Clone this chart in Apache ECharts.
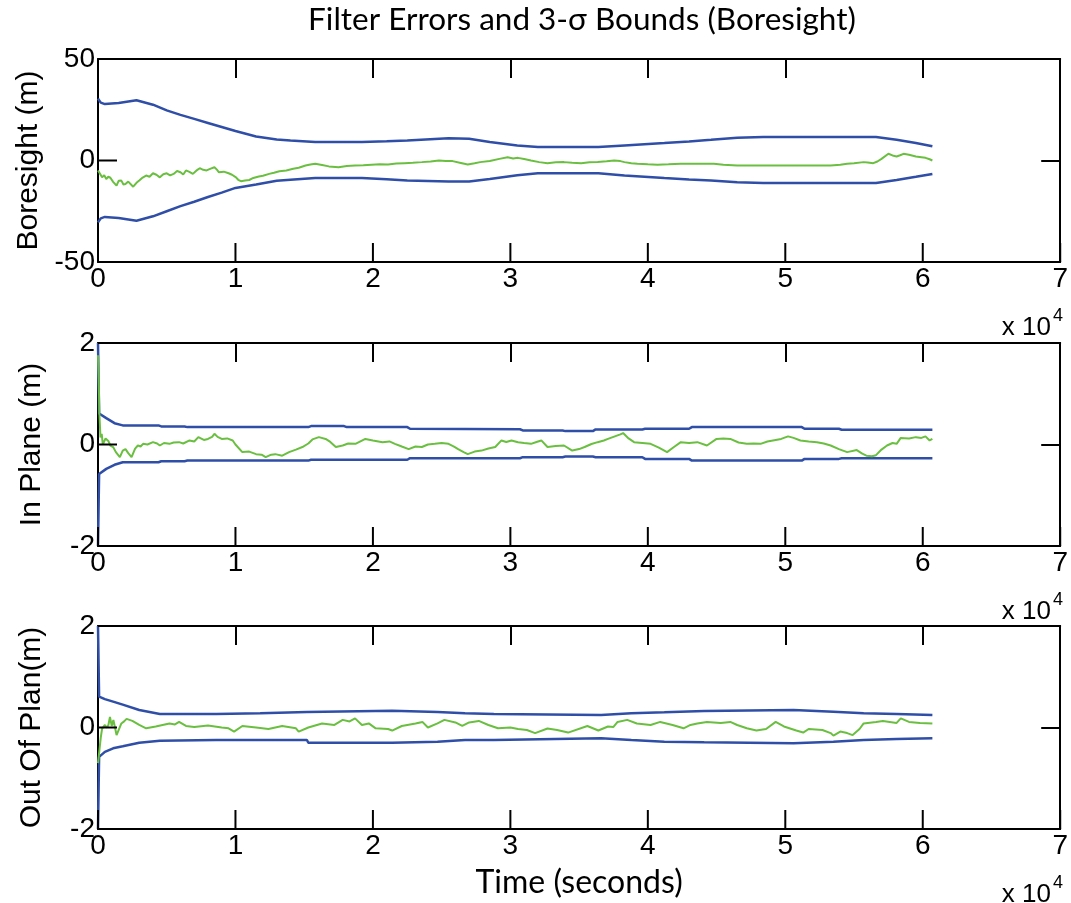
<!DOCTYPE html>
<html>
<head>
<meta charset="utf-8">
<script src="https://cdn.jsdelivr.net/npm/echarts@6/dist/echarts.min.js"></script>
<style>
  html, body { margin: 0; padding: 0; background: #fff; }
  #main { width: 1071px; height: 903px; }
</style>
</head>
<body>
<div id="main"></div>
<script>
// 时间单位: 10^4 秒
var boreBoundT = [0, 0.02, 0.05, 0.15, 0.28, 0.4, 0.5, 0.6, 0.7, 0.8, 0.9, 1.0, 1.15, 1.3, 1.4, 1.58, 1.92, 2.1, 2.25, 2.55, 2.7, 2.85, 3.05, 3.2, 3.64, 3.83, 4.12, 4.3, 4.46, 4.65, 4.84, 5.66, 5.81, 5.95, 6.07];
var boreUpper = [30.5, 28.5, 27.8, 28.3, 29.7, 27.5, 24.7, 22.5, 20.5, 18.5, 16.5, 14.5, 11.8, 10.3, 9.8, 9.1, 9.1, 9.5, 9.9, 11.0, 10.7, 9.1, 7.4, 6.6, 6.6, 7.4, 8.6, 9.4, 10.2, 11.2, 11.6, 11.6, 10.2, 8.6, 7.0];
var boreLower = [-30.5, -28.5, -27.8, -28.3, -29.7, -27.5, -25, -22.5, -20.3, -18, -15.8, -13.5, -11.8, -10, -9.5, -8.6, -8.6, -9.2, -9.9, -10.4, -10.4, -9.1, -7.3, -6.3, -6.3, -7.4, -8.6, -9.3, -9.9, -10.7, -11.1, -11.1, -9.6, -8.0, -6.6];
var boreErr = [[0,-4.9],[0.014,-5.5],[0.03,-8.3],[0.045,-7.2],[0.06,-9.1],[0.075,-8.0],[0.09,-8.5],[0.11,-10.5],[0.135,-12.4],[0.15,-10.0],[0.17,-9.9],[0.185,-11.8],[0.2,-11.6],[0.22,-10.4],[0.256,-12.9],[0.28,-11.0],[0.3,-9.9],[0.325,-8.4],[0.35,-7.4],[0.375,-8.0],[0.40,-6.3],[0.425,-7.0],[0.45,-8.3],[0.475,-6.8],[0.5,-6.3],[0.525,-7.3],[0.55,-6.6],[0.575,-5.2],[0.6,-5.8],[0.62,-6.9],[0.64,-4.9],[0.665,-5.6],[0.69,-6.6],[0.715,-5.0],[0.74,-3.8],[0.765,-4.6],[0.79,-4.9],[0.82,-4.0],[0.847,-3.3],[0.865,-4.5],[0.88,-5.8],[0.915,-5.5],[0.95,-6.3],[0.975,-7.0],[1.004,-8.3],[1.02,-9.5],[1.04,-10.2],[1.07,-9.8],[1.1,-9.6],[1.13,-8.6],[1.17,-7.9],[1.2,-7.5],[1.245,-6.6],[1.28,-6.0],[1.32,-5.3],[1.37,-4.9],[1.42,-4.1],[1.46,-3.6],[1.51,-2.5],[1.545,-2.0],[1.58,-1.6],[1.63,-2.2],[1.68,-2.9],[1.75,-3.3],[1.81,-2.7],[1.87,-2.5],[1.93,-2.4],[1.99,-2.1],[2.05,-1.9],[2.11,-2.0],[2.17,-1.5],[2.23,-1.3],[2.29,-1.1],[2.356,-0.8],[2.42,-0.5],[2.48,0],[2.53,-0.3],[2.58,-0.3],[2.64,-1.2],[2.69,-2.0],[2.74,-1.4],[2.78,-0.8],[2.85,-0.2],[2.92,0.8],[2.98,1.6],[3.02,1.0],[3.055,1.3],[3.1,0.7],[3.15,0],[3.21,-0.8],[3.27,-1.3],[3.33,-0.9],[3.39,-0.8],[3.45,-1.1],[3.515,-1.3],[3.575,-0.9],[3.635,-0.7],[3.7,-0.4],[3.755,0],[3.8,-0.3],[3.83,-0.8],[3.88,-1.3],[3.925,-1.6],[4.0,-1.9],[4.07,-2.1],[4.15,-1.9],[4.24,-1.6],[4.35,-1.6],[4.48,-1.6],[4.55,-2.1],[4.65,-2.5],[4.8,-2.5],[4.96,-2.5],[5.15,-2.5],[5.33,-2.5],[5.4,-2.1],[5.45,-1.6],[5.5,-1.3],[5.57,-0.8],[5.6,-1.0],[5.64,-1.3],[5.67,-0.5],[5.7,0.8],[5.75,3.3],[5.78,2.5],[5.81,2.0],[5.835,2.6],[5.86,3.3],[5.9,2.8],[5.95,2.0],[5.99,1.6],[6.02,1.3],[6.05,0.6],[6.07,0]];

var ipBoundT = [0, 0.008, 0.06, 0.12, 0.18, 0.44, 0.46, 0.63, 0.65, 1.53, 1.55, 1.79, 1.81, 2.25, 2.27, 3.07, 3.09, 3.38, 3.40, 3.60, 3.62, 3.96, 3.98, 4.30, 4.32, 5.12, 5.14, 5.39, 5.41, 6.07];
var ipUpper = [2, 0.61, 0.52, 0.42, 0.376, 0.376, 0.356, 0.356, 0.343, 0.343, 0.363, 0.363, 0.343, 0.343, 0.31, 0.30, 0.277, 0.277, 0.264, 0.264, 0.297, 0.297, 0.31, 0.31, 0.343, 0.343, 0.31, 0.31, 0.29, 0.29];
var ipLower = [-2, -0.58, -0.48, -0.40, -0.35, -0.35, -0.33, -0.33, -0.317, -0.317, -0.30, -0.30, -0.30, -0.30, -0.27, -0.27, -0.25, -0.25, -0.237, -0.237, -0.25, -0.25, -0.284, -0.284, -0.317, -0.317, -0.284, -0.284, -0.27, -0.27];
var ipErr = [[0,1.76],[0.005,1.3],[0.01,0.6],[0.018,0.14],[0.027,0.21],[0.035,0.0],[0.045,0.013],[0.055,0.12],[0.075,0.07],[0.09,-0.02],[0.11,-0.05],[0.13,-0.15],[0.159,-0.25],[0.18,-0.12],[0.2,-0.09],[0.22,-0.17],[0.244,-0.25],[0.27,-0.08],[0.29,-0.02],[0.31,-0.04],[0.328,0.013],[0.36,0.0],[0.40,0.046],[0.43,0.02],[0.45,-0.02],[0.48,0.03],[0.52,0.013],[0.55,0.04],[0.59,0.046],[0.62,0.02],[0.666,0.08],[0.7,0.06],[0.73,0.145],[0.77,0.09],[0.80,0.11],[0.83,0.15],[0.847,0.21],[0.87,0.15],[0.9,0.11],[0.94,0.12],[0.98,0.08],[1.0,0.0],[1.05,-0.15],[1.1,-0.14],[1.15,-0.19],[1.19,-0.2],[1.22,-0.25],[1.26,-0.2],[1.29,-0.19],[1.34,-0.22],[1.39,-0.15],[1.44,-0.1],[1.487,-0.05],[1.53,0.02],[1.56,0.1],[1.607,0.145],[1.656,0.11],[1.69,0.05],[1.73,-0.05],[1.78,-0.02],[1.82,0.02],[1.873,0.013],[1.945,0.11],[2.0,0.08],[2.07,0.046],[2.12,0.06],[2.16,0.013],[2.21,-0.04],[2.26,-0.09],[2.31,-0.04],[2.356,-0.05],[2.4,0.0],[2.45,0.013],[2.5,0.03],[2.55,0.013],[2.59,-0.04],[2.62,-0.09],[2.66,-0.15],[2.69,-0.19],[2.74,-0.14],[2.79,-0.12],[2.84,-0.08],[2.89,-0.05],[2.935,0.08],[2.97,0.05],[3.008,0.08],[3.056,0.046],[3.1,0.03],[3.15,0.013],[3.19,0.05],[3.225,0.08],[3.27,-0.05],[3.33,-0.03],[3.39,-0.02],[3.45,-0.12],[3.5,-0.09],[3.54,-0.05],[3.59,0.01],[3.635,0.046],[3.68,0.08],[3.71,0.11],[3.76,0.16],[3.8,0.2],[3.82,0.225],[3.86,0.12],[3.9,0.046],[3.96,0.03],[4.02,0.013],[4.08,-0.06],[4.14,-0.15],[4.19,-0.05],[4.24,0.046],[4.3,0.03],[4.36,0.046],[4.43,-0.02],[4.5,0.11],[4.55,0.12],[4.6,0.11],[4.66,0.04],[4.72,0.013],[4.77,0.02],[4.82,0.013],[4.87,0.06],[4.91,0.08],[4.97,0.11],[5.02,0.16],[5.06,0.13],[5.11,0.08],[5.17,0.06],[5.23,0.046],[5.28,0.02],[5.33,-0.02],[5.39,-0.09],[5.45,-0.15],[5.52,-0.11],[5.56,-0.18],[5.59,-0.22],[5.63,-0.23],[5.66,-0.21],[5.7,-0.1],[5.74,-0.02],[5.78,0.03],[5.81,0.013],[5.84,0.13],[5.9,0.12],[5.95,0.145],[5.99,0.13],[6.02,0.16],[6.05,0.08],[6.07,0.11]];

var opBoundT = [0, 0.008, 0.05, 0.11, 0.18, 0.30, 0.45, 0.86, 0.87, 1.18, 1.19, 1.52, 1.53, 2.14, 2.15, 2.47, 2.48, 2.67, 2.68, 2.88, 2.89, 3.66, 3.67, 3.88, 3.89, 4.12, 4.13, 4.41, 4.42, 5.06, 5.07, 5.35, 5.36, 5.57, 5.58, 5.81, 5.82, 6.07];
var opUpper = [2, 0.61, 0.56, 0.51, 0.45, 0.345, 0.266, 0.266, 0.28, 0.28, 0.305, 0.305, 0.33, 0.33, 0.305, 0.305, 0.28, 0.28, 0.266, 0.266, 0.246, 0.246, 0.28, 0.28, 0.30, 0.30, 0.325, 0.325, 0.345, 0.345, 0.312, 0.312, 0.28, 0.28, 0.266, 0.266, 0.246, 0.246];
var opLower = [-2, -0.58, -0.48, -0.41, -0.37, -0.30, -0.26, -0.246, -0.246, -0.246, -0.246, -0.246, -0.30, -0.30, -0.28, -0.28, -0.246, -0.246, -0.246, -0.246, -0.227, -0.213, -0.246, -0.246, -0.28, -0.28, -0.292, -0.292, -0.312, -0.312, -0.28, -0.28, -0.246, -0.246, -0.227, -0.227, -0.213, -0.213];
var opErr = [[0,-0.7],[0.01,-0.45],[0.02,-0.2],[0.03,-0.02],[0.04,-0.016],[0.05,0.05],[0.06,0.0],[0.075,0.04],[0.087,0.21],[0.1,0.03],[0.112,0.15],[0.135,-0.148],[0.15,-0.05],[0.17,0.08],[0.19,0.12],[0.208,0.17],[0.25,0.13],[0.3,0.05],[0.35,-0.016],[0.42,0.02],[0.52,0.08],[0.56,0.06],[0.59,0.11],[0.64,0.03],[0.7,0.01],[0.8,0.04],[0.9,0.0],[0.95,-0.016],[0.99,-0.08],[1.05,0.03],[1.15,0.0],[1.24,-0.03],[1.34,0.03],[1.44,-0.016],[1.46,-0.08],[1.53,0.0],[1.63,0.08],[1.72,0.05],[1.78,0.15],[1.83,0.12],[1.87,0.18],[1.92,0.05],[1.97,0.08],[2.02,-0.016],[2.11,-0.03],[2.14,-0.06],[2.21,0.03],[2.31,0.08],[2.36,0.11],[2.4,0.0],[2.47,0.08],[2.52,0.15],[2.6,0.1],[2.65,0.03],[2.7,0.1],[2.77,0.13],[2.84,0.05],[2.91,-0.016],[3.0,0.0],[3.056,-0.03],[3.12,-0.05],[3.18,-0.11],[3.27,-0.02],[3.34,-0.05],[3.42,-0.1],[3.56,0.03],[3.64,-0.06],[3.71,0.02],[3.75,0.01],[3.78,0.11],[3.85,0.15],[3.92,0.08],[4.02,0.05],[4.09,0.11],[4.18,0.05],[4.26,-0.016],[4.31,0.05],[4.36,0.08],[4.43,0.11],[4.53,0.09],[4.6,0.11],[4.65,0.05],[4.72,-0.016],[4.79,-0.06],[4.86,-0.03],[4.93,0.11],[4.99,0.02],[5.08,-0.06],[5.13,-0.1],[5.17,-0.03],[5.27,-0.05],[5.33,-0.11],[5.35,-0.16],[5.4,-0.08],[5.45,-0.11],[5.49,-0.15],[5.54,-0.03],[5.57,0.08],[5.66,0.11],[5.71,0.13],[5.76,0.11],[5.81,0.09],[5.84,0.18],[5.9,0.11],[5.98,0.09],[6.07,0.08]];

var yNames = ['Boresight (m)', 'In Plane (m)', 'Out Of Plan(m)'];
var yRanges = [[-50, 50, 50], [-2, 2, 2], [-2, 2, 2]];
var xTicks = [0, 1, 2, 3, 4, 5, 6, 7];
var gridTops = [59, 343, 626];
var gridLeft = 98, gridW = 967, gridH = 203;
var TICK_LEN = 19;

var blue = '#2f4ea8';
var green = '#6abf40';
var labelFont = 'Liberation Sans, Arial, sans-serif';

var myChart = echarts.init(document.getElementById('main'));

function zip(t, v) {
	return t.map(function (x, i) { return [x, v[i]]; });
}

function tickStyle() {
	return { show: true, inside: true, length: TICK_LEN, lineStyle: { color: '#000', width: 2 } };
}
var axisLineOn = { show: true, onZero: false, lineStyle: { color: '#000', width: 2 } };
var noSplit = { show: false };

// 底边/左边的内向刻度: 用 custom 系列按坐标轴换算位置画出
function tickSeries(xIdx, yIdx, data, dir) {
	return {
		type: 'custom', xAxisIndex: xIdx, yAxisIndex: yIdx, data: data,
		silent: true, animation: false, clip: false, z: 5,
		renderItem: function (params, api) {
			var p = api.coord([api.value(0), api.value(1)]);
			var x2 = dir === 'up' ? p[0] : p[0] + TICK_LEN;
			var y2 = dir === 'up' ? p[1] - TICK_LEN : p[1];
			return {
				type: 'line',
				shape: { x1: p[0], y1: p[1], x2: x2, y2: y2 },
				style: { stroke: '#000', lineWidth: 2 }
			};
		}
	};
}

var grids = [], xAxes = [], yAxes = [], seriesArr = [];

gridTops.forEach(function (top, i) {
	var r = yRanges[i];
	grids.push({ left: gridLeft, top: top, width: gridW, height: gridH });
	xAxes.push({
		type: 'value', gridIndex: i, min: 0, max: 7, interval: 1, position: 'bottom',
		axisLine: axisLineOn, axisTick: { show: false }, splitLine: noSplit,
		axisLabel: { color: '#000', fontSize: 28, fontFamily: labelFont, margin: 3 },
		name: i === 2 ? 'Time (seconds)' : '', nameLocation: 'middle', nameGap: 38,
		nameTextStyle: { color: '#000', fontSize: 32, fontFamily: 'Lato, sans-serif' }
	});
	xAxes.push({
		type: 'value', gridIndex: i, min: 0, max: 7, interval: 1, position: 'top',
		axisLine: axisLineOn, axisTick: tickStyle(), splitLine: noSplit, axisLabel: { show: false }
	});
	yAxes.push({
		type: 'value', gridIndex: i, min: r[0], max: r[1], interval: r[2], position: 'left',
		axisLine: axisLineOn, axisTick: { show: false }, splitLine: noSplit,
		axisLabel: { color: '#000', fontSize: 28, fontFamily: labelFont, margin: 3 },
		name: yNames[i], nameLocation: 'middle', nameGap: 51,
		nameTextStyle: { color: '#000', fontSize: 30, fontFamily: labelFont }
	});
	yAxes.push({
		type: 'value', gridIndex: i, min: r[0], max: r[1], interval: r[2], position: 'right',
		axisLine: axisLineOn, axisTick: tickStyle(), splitLine: noSplit, axisLabel: { show: false }
	});

	var yTicks = [];
	for (var v = r[0]; v <= r[1]; v += r[2]) yTicks.push(v);
	seriesArr.push(tickSeries(i * 2, i * 2, xTicks.map(function (t) { return [t, r[0]]; }), 'up'));
	seriesArr.push(tickSeries(i * 2, i * 2, yTicks.map(function (y) { return [0, y]; }), 'right'));
});

var panels = [
	[zip(boreBoundT, boreUpper), zip(boreBoundT, boreLower), boreErr],
	[zip(ipBoundT, ipUpper), zip(ipBoundT, ipLower), ipErr],
	[zip(opBoundT, opUpper), zip(opBoundT, opLower), opErr]
];
panels.forEach(function (p, i) {
	[0, 1, 2].forEach(function (k) {
		seriesArr.push({
			type: 'line', xAxisIndex: i * 2, yAxisIndex: i * 2,
			data: p[k], showSymbol: false, symbol: 'none', silent: true, animation: false,
			lineStyle: { color: k === 2 ? green : blue, width: k === 2 ? 2 : 2.5 },
			z: k === 2 ? 3 : 2
		});
	});
});

var graphics = [{
	type: 'text', x: 582, y: 4,
	style: { text: 'Filter Errors and 3-σ Bounds (Boresight)', font: '31.5px Lato, sans-serif', fill: '#000', align: 'center', textAlign: 'center', verticalAlign: 'top', textVerticalAlign: 'top' }
}];
gridTops.forEach(function (top) {
	var y0 = top + gridH;
	graphics.push({
		type: 'text', x: 1051, y: y0 + 53,
		style: { text: 'x 10', font: '26px Liberation Sans, Arial, sans-serif', fill: '#000', align: 'right', textAlign: 'right', verticalAlign: 'top', textVerticalAlign: 'top' }
	});
	graphics.push({
		type: 'text', x: 1053, y: y0 + 45,
		style: { text: '4', font: '18px Liberation Sans, Arial, sans-serif', fill: '#000', align: 'left', textAlign: 'left', verticalAlign: 'top', textVerticalAlign: 'top' }
	});
});

option = {
	backgroundColor: '#fff',
	animation: false,
	grid: grids,
	xAxis: xAxes,
	yAxis: yAxes,
	series: seriesArr,
	graphic: graphics
};
myChart.setOption(option);
</script>
</body>
</html>
